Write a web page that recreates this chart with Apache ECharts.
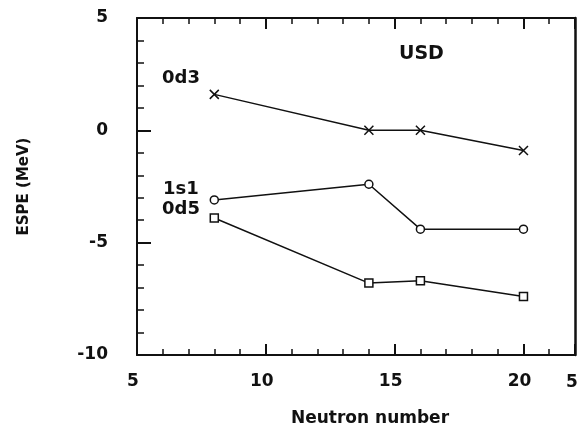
<!DOCTYPE html>
<html>
<head>
<meta charset="utf-8">
<script src="https://cdn.jsdelivr.net/npm/echarts@6/dist/echarts.min.js"></script>
<style>
  html, body { margin: 0; padding: 0; background: #fff; }
  #chart { width: 580px; height: 424px; }
</style>
</head>
<body>
<div id="chart"></div>
<script>
const neutrons = [8, 14, 16, 20]
const d3 = [1.6, 0.0, 0.0, -0.9]
const s1 = [-3.1, -2.4, -4.4, -4.4]
const d5 = [-3.9, -6.8, -6.7, -7.4]
const orbitNames = ['0d3', '1s1', '0d5']

const font = '"DejaVu Sans", Verdana, sans-serif'
const pairs = ys => neutrons.map((n, i) => [n, ys[i]])

const chart = echarts.init(document.getElementById('chart'), null, { renderer: 'canvas' })

const axisLine = () => ({ show: true, onZero: false, lineStyle: { color: '#111', width: 2 } })
const lbl = () => ({ color: '#111', fontSize: 17, fontWeight: 'bold', fontFamily: font })
const ticks = len => ({ show: true, inside: true, length: len, lineStyle: { color: '#111', width: 2 } })
const minor = len => ({ show: true, splitNumber: 5, length: len, lineStyle: { color: '#111', width: 1.5 } })

function line(name, ys, symbol, size, xi) {
  return {
    name, type: 'line', data: pairs(ys), symbol, symbolSize: size,
    xAxisIndex: xi,
    lineStyle: { color: '#111', width: 1.5 },
    itemStyle: { color: '#fff', borderColor: '#111', borderWidth: 1.5 },
    label: { show: false },
    animation: false
  }
}

const txt = (s, x, y, size) => ({
  type: 'text', left: x, top: y,
  style: { text: s, fill: '#111', font: 'bold ' + size + 'px ' + font }
})

chart.setOption({
  animation: false,
  grid: { left: 137, top: 18, right: 5, bottom: 69, outerBoundsMode: 'none' },
  xAxis: [{
    type: 'value', min: 5, max: 22, interval: 5,
    name: 'Neutron number', nameLocation: 'middle', nameGap: 55,
    nameTextStyle: { color: '#111', fontSize: 17, fontWeight: 'bold', fontFamily: font, padding: [0, 0, 0, 28] },
    axisLine: axisLine(), splitLine: { show: false },
    axisTick: ticks(11), minorTick: minor(6),
    axisLabel: Object.assign({ margin: 18, showMaxLabel: false, padding: [0, 8, 0, 0] }, lbl())
  }, {
    type: 'value', position: 'top', min: 5, max: 22, interval: 5,
    axisLine: axisLine(), splitLine: { show: false },
    axisTick: ticks(11), minorTick: minor(6),
    axisLabel: { show: false }
  }],
  yAxis: [{
    type: 'value', min: -10, max: 5, interval: 5,
    name: 'ESPE (MeV)', nameLocation: 'middle', nameGap: 105, nameRotate: 90,
    nameTextStyle: { color: '#111', fontSize: 15, fontWeight: 'bold', fontFamily: font },
    axisLine: axisLine(), splitLine: { show: false },
    axisTick: ticks(14), minorTick: minor(7),
    axisLabel: Object.assign({ margin: 29 }, lbl())
  }, {
    type: 'value', position: 'right', min: -10, max: 5, interval: 5,
    axisLine: { show: true, onZero: false, lineStyle: { color: '#111', width: 2.5 } },
    splitLine: { show: false }, axisTick: { show: false }, axisLabel: { show: false }
  }],
  series: [
    line(orbitNames[0], d3, 'path://M0,0L10,10M10,0L0,10', 9, 1),
    line(orbitNames[1], s1, 'circle', 8, 0),
    line(orbitNames[2], d5, 'rect', 8, 0)
  ],
  graphic: [
    txt(orbitNames[0], 162, 69, 18),
    txt(orbitNames[1], 163, 180, 18),
    txt(orbitNames[2], 162, 200, 18),
    txt('USD', 399, 45, 19),
    txt('5', 566, 374, 17)
  ]
})
</script>
</body>
</html>
